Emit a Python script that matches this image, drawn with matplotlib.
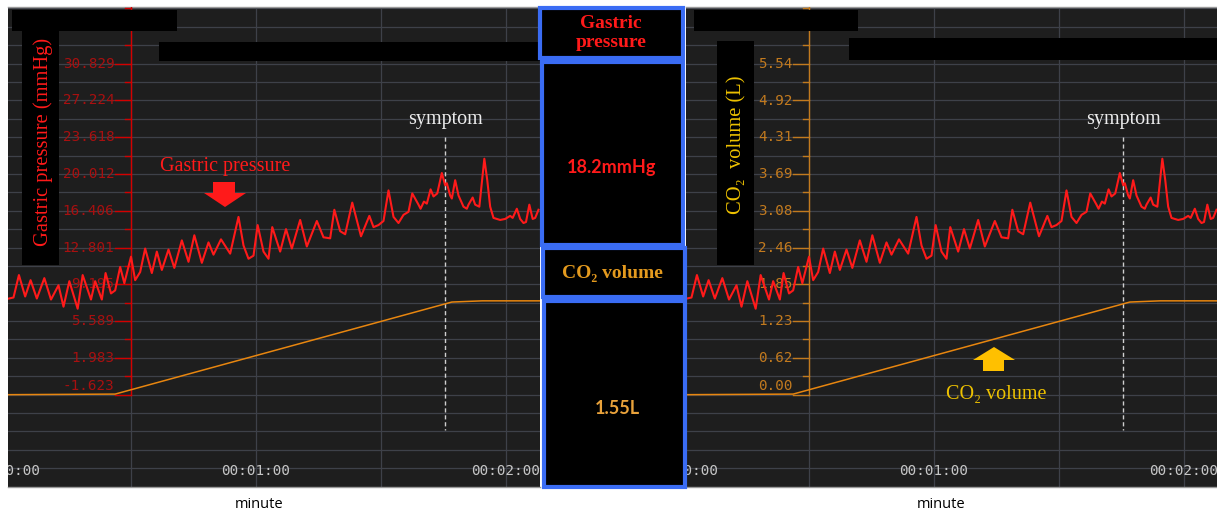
import numpy as np
import matplotlib.pyplot as plt
from matplotlib.patches import Rectangle, Polygon
from matplotlib.transforms import ScaledTranslation

W, H = 1217, 514
DPI = 100

# gastric pressure trace (seconds, mmHg)
time_s = [0.7, 1.8, 3.1, 4.6, 5.9, 7.4, 9.2, 10.8, 12.6, 13.8,
          15.2, 17.2, 18.4, 20.4, 21.4, 23.0, 23.9, 25.2, 26.2, 27.4,
          28.4, 30.0, 31.0, 32.2, 33.4, 35.0, 36.2, 37.4, 39.0, 40.4,
          42.2, 43.8, 45.2, 47.0, 48.6, 49.8, 51.6, 53.8, 55.8, 57.0,
          58.2, 59.4, 60.4, 61.8, 63.0, 63.9, 65.8, 67.2, 68.6, 70.6,
          72.2, 74.6, 76.2, 77.8, 78.8, 80.2, 81.4, 83.1, 85.2, 87.2,
          88.2, 89.4, 90.6, 91.8, 93.0, 94.2, 95.4, 96.6, 97.5, 99.0,
          99.5, 100.3, 101.0, 101.9, 102.6, 103.5, 104.6, 105.4, 105.8, 106.6,
          107.0, 107.8, 108.6, 109.8, 110.6, 111.0, 112.0, 112.6, 113.6, 114.8,
          115.5, 116.2, 117.0, 118.6, 119.8, 121.0, 121.6, 122.6, 123.4, 124.2,
          124.8, 125.6, 126.4, 127.0, 127.8]
pressure_mmhg = [7.8, 7.9, 10.1, 8.0, 9.6, 7.8, 9.8, 7.7, 9.1, 7.0,
                 9.5, 6.8, 10.1, 7.7, 9.5, 7.7, 10.3, 8.3, 8.6, 10.9,
                 9.3, 11.9, 9.6, 10.4, 12.7, 10.3, 12.4, 10.6, 12.6, 10.8,
                 13.5, 11.4, 14.0, 11.3, 13.3, 12.1, 13.6, 12.2, 15.8, 13.0,
                 11.7, 12.0, 15.0, 12.4, 11.7, 14.8, 12.4, 14.6, 12.7, 15.5,
                 12.9, 15.4, 13.8, 13.7, 16.5, 14.4, 14.1, 17.2, 13.9, 15.9,
                 14.8, 15.0, 15.4, 18.4, 15.8, 15.2, 16.0, 16.3, 18.1, 17.0,
                 16.6, 17.3, 17.1, 18.5, 17.8, 18.1, 20.1, 18.9, 19.1, 17.9,
                 17.6, 19.4, 17.9, 16.8, 16.6, 17.0, 17.7, 17.0, 16.8, 21.5,
                 19.4, 16.8, 15.7, 15.5, 15.6, 15.9, 15.7, 16.6, 15.6, 15.2,
                 15.3, 17.0, 15.6, 15.7, 16.5]

# insufflated CO2 volume (seconds, litres)
co2_time_s = [0.5, 26.2, 107.0, 114.3, 128.2]
co2_volume_l = [0.0, 0.01, 1.55, 1.57, 1.57]

symptom_time_s = 105.4

pressure_ticks = [30.829, 27.224, 23.618, 20.012, 16.406, 12.801, 9.195, 5.589, 1.983, -1.623]
co2_ticks = [5.54, 4.92, 4.31, 3.69, 3.08, 2.46, 1.85, 1.23, 0.62, 0.00]
time_ticks = [0, 60, 120]
time_labels = ['00:00:00', '00:01:00', '00:02:00']

P_STEP = 3.6058
C_STEP = 0.6156
P_LIM = (-10.67, 36.37)
T_LIM = (0.48, 128.16)
AXIS_T = 30.0

BG = '#1e1e1e'
GRID = '#3e4149'
BLUE = '#3a6cf4'
MONO = 'DejaVu Sans Mono'
SERIF = ['Liberation Serif', 'DejaVu Serif']

fig = plt.figure(figsize=(W / DPI, H / DPI), dpi=DPI)


def fx(x):
    return x / W


def fy(y):
    return 1 - y / H


def box(x0, y0, x1, y1, face='black', edge='none', lw=0, z=2):
    fig.add_artist(Rectangle((fx(x0), fy(y1)), (x1 - x0) / W, (y1 - y0) / H,
                             transform=fig.transFigure, facecolor=face,
                             edgecolor=edge, linewidth=lw, zorder=z))


def arrow(pts, color):
    fig.add_artist(Polygon([(fx(x), fy(y)) for x, y in pts], closed=True,
                           transform=fig.transFigure, facecolor=color,
                           edgecolor='none', zorder=3))


def panel(left_px):
    ax = fig.add_axes([fx(left_px), 27 / H, 532 / W, 480 / H])
    ax.set_facecolor(BG)
    ax.set_xlim(T_LIM)
    ax.set_ylim(P_LIM)
    ax.set_xticks([])
    ax.set_yticks([])
    for s in ['left', 'right']:
        ax.spines[s].set_visible(False)
    for s in ['top', 'bottom']:
        ax.spines[s].set_color('#9a9a9a')
        ax.spines[s].set_linewidth(1)
    p0 = pressure_ticks[-1]
    for k in range(-4, 22):
        ax.axhline(p0 + k * P_STEP / 2, color=GRID, lw=0.9, zorder=1)
    for t in (30, 60, 90, 120):
        ax.axvline(t, color=GRID, lw=0.9, zorder=1)
    # the first label sits on the panel edge and is cut by it, as on the monitor
    for t, lab in zip(time_ticks, time_labels):
        ax.text(t, -9.1, lab, ha='center', va='center', color='#c6c6c6',
                family=MONO, fontsize=10.3, clip_on=True)
    cx = ax.twinx()
    cx.set_ylim([(p - p0) / P_STEP * C_STEP for p in P_LIM])
    cx.set_yticks([])
    for s in cx.spines.values():
        s.set_visible(False)
    return ax, cx


def draw_axis(ax, trans, ticks, labels, step, top, line_col, text_col):
    bottom = ticks[-1]
    ax.plot([AXIS_T, AXIS_T], [bottom, top], color=line_col, lw=1, transform=trans, zorder=3)
    for v in np.arange(bottom, top, step / 2):
        major = any(abs(v - t) < step / 4 for t in ticks)
        ln = 3.84 if major else 1.44
        ax.plot([AXIS_T - ln, AXIS_T], [v, v], color=line_col, lw=1, transform=trans, zorder=3)
    for i, (v, lab) in enumerate(zip(ticks, labels)):
        tr = trans
        if i == len(ticks) - 1:
            tr = trans + ScaledTranslation(0, 9 / DPI, fig.dpi_scale_trans)
        ax.text(AXIS_T - 4.0, v, lab, ha='right', va='center', color=text_col,
                family=MONO, fontsize=10.3, transform=tr, zorder=3)


for left_px, kind in [(8, 'pressure'), (686, 'co2')]:
    ax, cx = panel(left_px)
    if kind == 'pressure':
        draw_axis(ax, ax.transData, pressure_ticks, ['%.3f' % v for v in pressure_ticks],
                  P_STEP, P_LIM[1], '#d40000', '#a81010')
        ax.text(52.6, 20.78, 'Gastric pressure', ha='center', va='center',
                color='#ff1a1a', family=SERIF, fontsize=14.5, zorder=6)
    else:
        c_top = cx.get_ylim()[1]
        draw_axis(ax, cx.transData, co2_ticks, ['%.2f' % v for v in co2_ticks],
                  C_STEP, c_top, '#c27a1e', '#c27a1e')
        ax.text(74.9, -1.6, 'CO₂ volume', ha='center', va='center',
                color='#eec200', family=SERIF, fontsize=14.5, zorder=6)
    ax.plot([symptom_time_s, symptom_time_s], [23.6, -5.1], color='#d0d0d0',
            lw=1, ls=(0, (3, 2)), zorder=4)
    ax.text(symptom_time_s, 25.3, 'symptom', ha='center', va='center',
            color='#ececec', family=SERIF, fontsize=14.5, zorder=6)
    ax.plot(time_s, pressure_mmhg, color='#ff1a1a', lw=1.5, zorder=5)
    cx.plot(co2_time_s, co2_volume_l, color='#e8860f', lw=1.1, zorder=5)

# redaction boxes and axis-title backgrounds
for x0, y0, x1, y1 in [(12, 10, 177, 31), (159, 42, 540, 61), (22, 31, 59, 265),
                       (694, 10, 858, 31), (849, 38, 1217, 60), (717, 41, 754, 265)]:
    box(x0, y0, x1, y1)

fig.text(fx(43), fy(142), 'Gastric pressure (mmHg)', rotation=90, ha='center', va='center',
         color='#ff1a1a', family=SERIF, fontsize=14.8, zorder=4)
fig.text(fx(737), fy(145), 'CO₂  volume (L)', rotation=90, ha='center', va='center',
         color='#eec200', family=SERIF, fontsize=14.8, zorder=4)

# annotation arrows
arrow([(213, 182), (235, 182), (235, 193), (246, 193), (225, 207), (204, 193), (213, 193)], '#ff1a1a')
arrow([(983, 371), (1004, 371), (1004, 360), (1015, 360), (994, 347), (973, 360), (983, 360)], '#ffc000')

# centre read-out panel
box(540, 8, 683, 58, edge=BLUE, lw=3, z=2)
box(542, 62, 683, 245, edge=BLUE, lw=3, z=2)
box(543, 248, 685, 297, edge=BLUE, lw=3, z=2)
box(544, 301, 685, 487, edge=BLUE, lw=3, z=2)
fig.text(fx(611), fy(33), 'Gastric\npressure', ha='center', va='center', linespacing=1.2,
         color='#ff1a1a', family=SERIF, weight='bold', fontsize=14, zorder=4)
fig.text(fx(612), fy(168), '18.2mmHg', ha='center', va='center',
         color='#ff1a1a', family='Lato', weight='bold', fontsize=13, zorder=4)
fig.text(fx(612), fy(274), 'CO₂ volume', ha='center', va='center',
         color='#e49a1e', family=SERIF, weight='bold', fontsize=14, zorder=4)
fig.text(fx(617), fy(408), '1.55L', ha='center', va='center',
         color='#e9a23b', family='Lato', weight='bold', fontsize=13, zorder=4)

for cx_px in (259, 941):
    fig.text(fx(cx_px), fy(504), 'minute', ha='center', va='center',
             color='black', family='Open Sans', fontsize=10.5)

fig.savefig('out.png', dpi=DPI, facecolor='white')
